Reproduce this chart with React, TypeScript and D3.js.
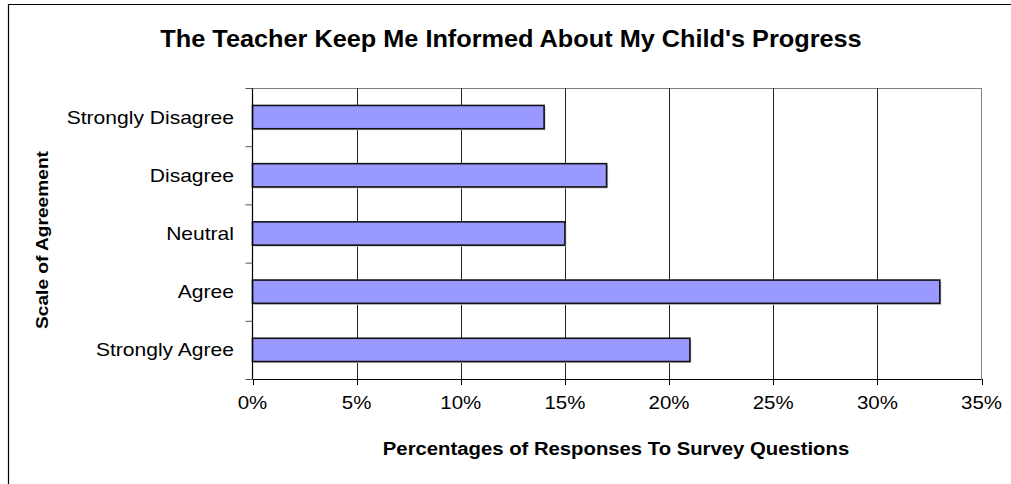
import React from "react";
import * as d3 from "d3";

const categories = ["Strongly Disagree", "Disagree", "Neutral", "Agree", "Strongly Agree"];
const values = [14, 17, 15, 33, 21];
const xTicks = [0, 5, 10, 15, 20, 25, 30, 35];
const title = "The Teacher Keep Me Informed About My Child's Progress";
const xTitle = "Percentages of Responses To Survey Questions";
const yTitle = "Scale of Agreement";

const W = 1011;
const H = 484;
const left = 252.5;
const right = 981.5;
const top = 88;
const bottom = 379;
const FONT = "Arial, 'Liberation Sans', sans-serif";

export default function App() {
  const x = d3.scaleLinear().domain([0, 35]).range([left, right]);
  const y = d3.scaleBand<string>().domain(categories).range([top, bottom]).paddingInner(0.6).paddingOuter(0.3);
  const bounds = d3.range(categories.length + 1).map((i) => top + ((bottom - top) * i) / categories.length);

  const stretched = (tx: number, ty: number, text: string, sx: number, opts: any) => (
    <text transform={`translate(${tx},${ty}) scale(${sx},1)`} fontFamily={FONT} {...opts}>
      {text}
    </text>
  );

  return (
    <svg width={W} height={H} style={{ position: "absolute", left: 0, top: 0, background: "#fff" }}>
      <rect x={0} y={0} width={W} height={H} fill="#fff" />
      <line x1={8.5} y1={4} x2={8.5} y2={H} stroke="#000" strokeWidth={1.2} />
      <line x1={8} y1={4.5} x2={W} y2={4.5} stroke="#000" strokeWidth={1.2} />

      <line x1={left} y1={top + 0.5} x2={right} y2={top + 0.5} stroke="#808080" strokeWidth={1} />
      <line x1={right} y1={top} x2={right} y2={bottom} stroke="#808080" strokeWidth={1} />

      {xTicks.slice(1, -1).map((t) => (
        <line key={t} x1={Math.round(x(t)) + 0.5} x2={Math.round(x(t)) + 0.5} y1={top} y2={bottom} stroke="#222" strokeWidth={1} />
      ))}

      {categories.map((c, i) => (
        <rect
          key={"s" + c}
          x={x(0) + 1.5}
          y={y(c)! + 1.5}
          width={x(values[i]) - x(0)}
          height={y.bandwidth()}
          fill="#c8c8c8"
        />
      ))}
      {categories.map((c, i) => (
        <rect
          key={c}
          x={x(0)}
          y={y(c)!}
          width={x(values[i]) - x(0)}
          height={y.bandwidth()}
          fill="#9999FF"
          stroke="#111"
          strokeWidth={1.6}
        />
      ))}

      <line x1={left} y1={top} x2={left} y2={bottom} stroke="#000" strokeWidth={1.2} />
      <line x1={left} y1={bottom + 0.5} x2={right} y2={bottom + 0.5} stroke="#000" strokeWidth={1.2} />
      {xTicks.map((t) => (
        <line key={t} x1={Math.round(x(t)) + 0.5} x2={Math.round(x(t)) + 0.5} y1={bottom} y2={bottom + 6} stroke="#000" strokeWidth={1} />
      ))}
      {bounds.map((b, i) => (
        <line key={i} x1={left - 7} x2={left} y1={b + 0.5} y2={b + 0.5} stroke="#555" strokeWidth={1} />
      ))}

      {xTicks.map((t) =>
        stretched(x(t), 409, `${t}%`, 1.17, { key: "xt" + t, fontSize: 17.5, textAnchor: "middle", fill: "#000" })
      )}

      {categories.map((c) =>
        stretched(234, y(c)! + y.bandwidth() / 2 + 6.5, c, 1.17, { key: "yl" + c, fontSize: 18, textAnchor: "end", fill: "#000" })
      )}

      {stretched(511, 47, title, 1.1, { fontSize: 23, fontWeight: "bold", textAnchor: "middle", fill: "#000" })}
      {stretched(616, 455, xTitle, 1.16, { fontSize: 17.5, fontWeight: "bold", textAnchor: "middle", fill: "#000" })}
      <text
        transform={`translate(48,240) rotate(-90) scale(1.14,1)`}
        fontFamily={FONT}
        fontSize={16.8}
        fontWeight="bold"
        textAnchor="middle"
        fill="#000"
      >
        {yTitle}
      </text>
    </svg>
  );
}
